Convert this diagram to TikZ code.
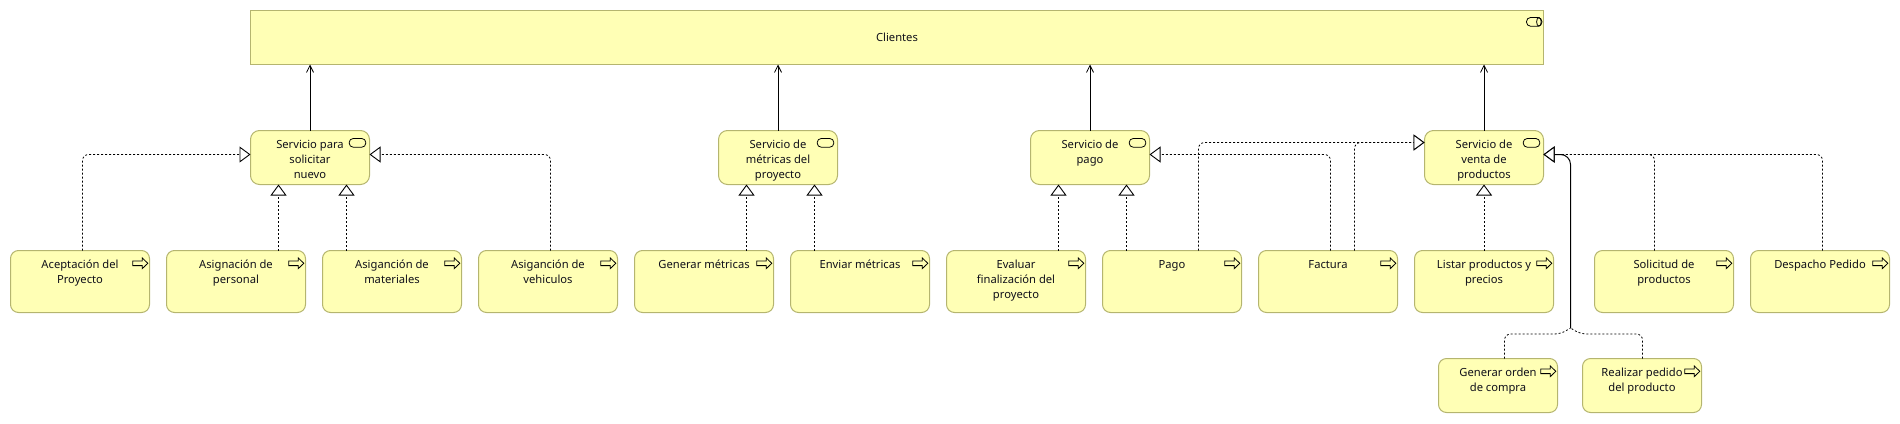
\documentclass[tikz,border=0pt]{standalone}
\usepackage{fontspec}
\setmainfont{Noto Sans}
\usetikzlibrary{arrows.meta,calc}
\definecolor{boxfill}{HTML}{FFFFB5}
\definecolor{boxline}{HTML}{B5B56F}
\definecolor{inktext}{HTML}{10101A}
\newcommand{\boxtext}[3]{\parbox[c][#2pt][t]{#1pt}{\centering\fontsize{11.2}{15}\selectfont\rule{0pt}{17.5pt}#3\par}}
\tikzset{
  elem/.style={draw=boxline,fill=boxfill,line width=1pt,inner sep=0pt,outer sep=0pt,anchor=north west,text=inktext},
  svc/.style={elem,rounded corners=9pt},
  proc/.style={elem,rounded corners=8pt},
  iconline/.style={draw=black,line width=0.8pt,line join=miter},
  serving/.style={draw=black,line width=1pt,-{Straight Barb[length=7pt,width=7pt,line width=0.8pt]}},
  realflat/.style={draw=black,line width=0.8pt,dash pattern=on 2pt off 2pt,rounded corners=6pt},
  real/.style={realflat,-{Triangle[open,fill=white,length=11pt,width=16pt,line width=0.9pt]}},
  trunk/.style={draw=black,line width=1pt,rounded corners=10pt,-{Triangle[open,fill=white,length=11pt,width=16pt,line width=0.9pt]}}
}
\newcommand{\svcicon}[1]{\draw[iconline,rounded corners=4pt] ($(#1.north east)+(-20.3,8)$) rectangle ++(16.6,8.7);}
\newcommand{\arrowicon}[1]{\draw[iconline] ($(#1.north east)+(-16.7,10.5)$) -- ++(9.5,0) -- ++(0,-3) -- ++(5.5,5.3) -- ++(-5.5,5.3) -- ++(0,-3) -- ++(-9.5,0) -- cycle;}
\begin{document}
\begin{tikzpicture}[x=1pt,y=-1pt]
\useasboundingbox (0,0) rectangle (1900,423);
% top element
\node[elem] (cli) at (250.5,10.5) {\parbox[c][54pt][c]{1293pt}{\centering\fontsize{11.2}{15}\selectfont Clientes\par}};
% services
\node[svc] (s1) at (250.5,130.5) {\boxtext{119}{54}{Servicio para\\solicitar\\nuevo}};
\node[svc] (s2) at (718.5,130.5) {\boxtext{119}{54}{Servicio de\\métricas del\\proyecto}};
\node[svc] (s3) at (1030.5,130.5) {\boxtext{119}{54}{Servicio de\\pago}};
\node[svc] (s4) at (1424.5,130.5) {\boxtext{119}{54}{Servicio de\\venta de\\productos}};
% processes
\node[proc] (p1) at (10.5,250.5) {\boxtext{139}{62}{Aceptación del\\Proyecto}};
\node[proc] (p2) at (166.5,250.5) {\boxtext{139}{62}{Asignación de\\personal}};
\node[proc] (p3) at (322.5,250.5) {\boxtext{139}{62}{Asiganción de\\materiales}};
\node[proc] (p4) at (478.5,250.5) {\boxtext{139}{62}{Asiganción de\\vehiculos}};
\node[proc] (p5) at (634.5,250.5) {\boxtext{139}{62}{Generar métricas}};
\node[proc] (p6) at (790.5,250.5) {\boxtext{139}{62}{Enviar métricas}};
\node[proc] (p7) at (946.5,250.5) {\boxtext{139}{62}{Evaluar\\finalización del\\proyecto}};
\node[proc] (p8) at (1102.5,250.5) {\boxtext{139}{62}{Pago}};
\node[proc] (p9) at (1258.5,250.5) {\boxtext{139}{62}{Factura}};
\node[proc] (p10) at (1414.5,250.5) {\boxtext{139}{62}{Listar productos y\\precios}};
\node[proc] (p11) at (1594.5,250.5) {\boxtext{139}{62}{Solicitud de\\productos}};
\node[proc] (p12) at (1750.5,250.5) {\boxtext{139}{62}{Despacho Pedido}};
\node[proc] (p13) at (1438.5,358.5) {\boxtext{119}{54}{Generar orden\\de compra}};
\node[proc] (p14) at (1582.5,358.5) {\boxtext{119}{54}{Realizar pedido\\del producto}};
% icons
\draw[iconline,rounded corners=4pt] ($(cli.north east)+(-17,7)$) rectangle ++(15.4,8.7);
\draw[iconline] ($(cli.north east)+(-4.6,7)$) arc[x radius=2.3pt,y radius=4.35pt,start angle=90,end angle=450];
\foreach \n in {s1,s2,s3,s4}{\svcicon{\n}}
\foreach \n in {p1,p2,p3,p4,p5,p6,p7,p8,p9,p10,p11,p12,p13,p14}{\arrowicon{\n}}
% serving
\draw[serving] (s1.north) -- (s1.north |- cli.south);
\draw[serving] (s2.north) -- (s2.north |- cli.south);
\draw[serving] (s3.north) -- (s3.north |- cli.south);
\draw[serving] (s4.north) -- (s4.north |- cli.south);
% realization, routed
\draw[real] ($(p1.north west)+(72,0)$) |- ($(s1.west)+(0,-3)$);
\draw[real] ($(p2.north west)+(112,0)$) -- ($(s1.south west)+(28,0)$);
\draw[real] ($(p3.north west)+(24,0)$) -- ($(s1.south west)+(96,0)$);
\draw[real] ($(p4.north west)+(72,0)$) |- ($(s1.east)+(0,-3)$);
\draw[real] ($(p5.north west)+(112,0)$) -- ($(s2.south west)+(28,0)$);
\draw[real] ($(p6.north west)+(24,0)$) -- ($(s2.south west)+(96,0)$);
\draw[real] ($(p7.north west)+(112,0)$) -- ($(s3.south west)+(28,0)$);
\draw[real] ($(p8.north west)+(24,0)$) -- ($(s3.south west)+(96,0)$);
\draw[real] ($(p9.north west)+(72,0)$) |- ($(s3.east)+(0,-3)$);
\draw[real] ($(p8.north west)+(96,0)$) |- ($(s4.north west)+(0,12)$);
\draw[real] ($(p9.north west)+(96,0)$) |- ($(s4.north west)+(0,12)$);
\draw[real] (p10.north -| s4.south) -- (s4.south);
\draw[real] ($(p11.north west)+(60,0)$) |- ($(s4.east)+(0,-3)$);
\draw[real] ($(p12.north west)+(72,0)$) |- ($(s4.east)+(0,-3)$);
\coordinate (join) at ($(s4.east)+(27,0)$);
\coordinate (peak) at ($(join |- p13.north)+(0,-30.5)$);
\draw[trunk] (peak) |- ($(s4.east)+(0,-3)$);
\draw[realflat] ($(p13.north west)+(66,0)$) |- ($(peak)+(-10,6)$) -- (peak);
\draw[realflat] ($(p14.north west)+(60,0)$) |- ($(peak)+(10,6)$) -- (peak);
\end{tikzpicture}
\end{document}
